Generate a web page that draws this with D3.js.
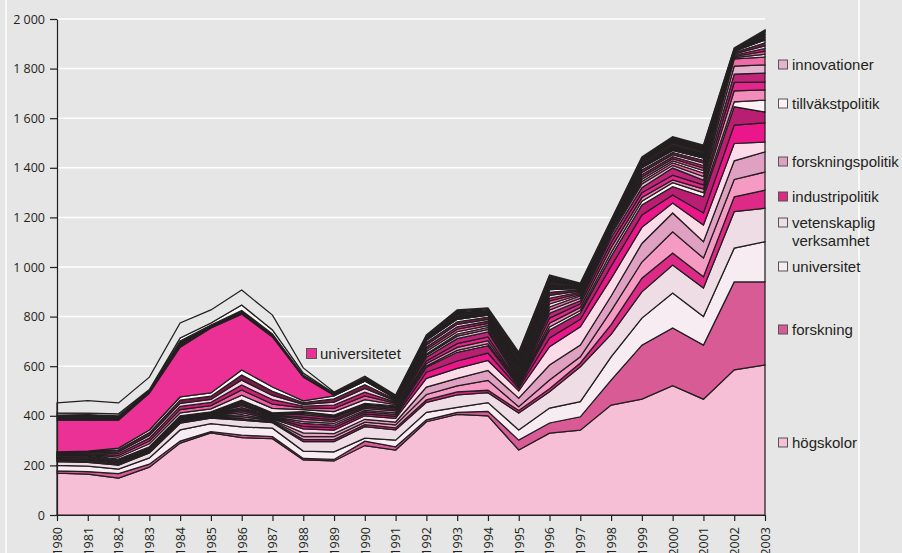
<!DOCTYPE html>
<html>
<head>
<meta charset="utf-8">
<script src="https://cdn.jsdelivr.net/npm/d3@7"></script>
<style>
  html, body { margin: 0; padding: 0; background: #e6e6e6; }
  svg { display: block; }
  .axis text { font-family: 'Open Sans', sans-serif; font-size: 12.5px; fill: #231f20; }
  .legend text { font-family: 'Liberation Sans', Arial, sans-serif; font-size: 15px; fill: #231f20; }
</style>
</head>
<body>
<svg id="chart" width="902" height="553"></svg>
<script>
// years on the x axis
var years = [1980,1981,1982,1983,1984,1985,1986,1987,1988,1989,1990,1991,1992,1993,1994,1995,1996,1997,1998,1999,2000,2001,2002,2003];
var yTicks = [0,200,400,600,800,1000,1200,1400,1600,1800,2000];

// layers, bottom to top
var hogskolor   = [169,165,149,193,290,331,312,308,222,218,280,262,376,406,400,262,330,342,443,467,521,467,585,605];
var forskning   = [9,10,18,12,8,5,10,8,6,6,18,13,8,8,18,40,41,54,101,218,233,218,355,335];
var universitet = [22,22,18,25,45,32,33,34,30,31,12,27,30,20,35,41,60,61,94,109,141,115,136,162];
var vetenskaplig = [15,15,16,20,27,23,28,22,38,41,46,41,40,50,40,68,66,141,90,106,113,115,147,135];
var industripolitik = [3,3,2,3,3,3,6,4,8,8,8,8,10,12,10,10,12,15,40,55,48,46,60,73];
var rosa1       = [3,3,3,3,3,2,8,4,12,12,10,12,22,25,40,16,35,25,55,65,86,75,70,73];
var forskningspolitik = [2,3,2,2,3,2,8,3,15,12,12,12,30,30,40,34,61,47,60,75,76,66,75,81];
var ljusrosa    = [3,3,3,3,3,3,8,4,16,14,14,15,35,40,40,30,74,74,70,65,40,67,70,40];
var magenta1    = [2,3,2,2,3,2,8,4,10,10,8,8,25,30,30,10,35,30,50,50,32,49,74,77];
var morkmagenta1 = [2,2,2,2,3,2,6,3,12,10,8,8,20,35,30,8,32,25,40,40,34,65,74,44];
var tillvakstpolitik = [2,2,2,2,2,2,6,3,8,7,6,6,5,8,8,3,12,10,15,15,16,17,20,48];
var rosa2       = [2,2,2,2,3,2,8,4,10,9,8,8,10,12,12,5,15,13,20,15,11,15,44,41];
var magenta2    = [2,2,2,2,2,2,6,3,8,7,6,6,10,15,15,5,21,15,20,20,19,16,34,32];
var morkmagenta2 = [1,2,2,2,2,2,6,3,10,8,6,6,15,20,20,8,20,12,20,20,29,19,34,36];
var innovationer = [2,2,1,1,2,2,5,3,6,5,4,4,8,10,10,4,13,10,12,15,11,15,32,33];
var rosa3       = [1,1,1,1,1,1,5,2,6,5,4,4,5,8,8,4,12,10,10,10,10,14,29,32];
var rand1 = [3,3,8,12,12,12,20,18,8,14,15,5,10,10,8,8,12,5,5,9,8,10,5,11];
var rand2 = [2,3,7,11,13,13,21,17,7,13,15,5,9,10,9,8,12,5,5,9,9,10,5,12];
var rand3 = [3,3,8,12,13,13,20,18,7,13,15,5,9,10,8,9,11,5,5,9,8,10,5,11];
var rand4 = [2,3,7,11,12,12,20,17,7,12,15,5,9,10,8,8,12,5,5,9,8,10,5,11];
var rand5 = [3,3,8,11,13,13,21,17,7,13,15,5,10,10,9,9,12,5,5,10,9,11,6,12];
var rand6 = [2,3,7,11,13,13,20,17,7,12,15,5,9,10,8,8,11,5,5,9,8,10,5,11];
var universitetet = [128,125,113,149,201,262,225,202,96,3,0,0,0,0,0,0,0,0,0,0,0,0,0,0];
var mork1 = [7,7,6,3,8,4,5,4,3,2,4,3,5,10,7,17,17,5,4,12,16,15,2,11];
var mork2 = [7,8,6,3,9,4,5,4,3,2,3,3,5,10,7,17,17,4,4,12,16,15,2,11];
var mork3 = [6,7,5,2,8,4,5,4,2,1,3,2,5,10,7,17,17,4,4,12,15,14,1,11];
var topp1 = [8,6,8,6,12,8,22,16,8,3,4,3,3,4,4,4,4,4,4,4,4,4,4,4];
var topp2 = [41,50,44,50,60,53,60,60,21,5,6,3,3,4,4,4,4,4,4,4,4,4,4,4];

var layers = [
  {key:'hogskolor', values:hogskolor, color:'#f6bfd6'},
  {key:'forskning', values:forskning, color:'#d95b96'},
  {key:'universitet', values:universitet, color:'#f7ecf1'},
  {key:'vetenskaplig', values:vetenskaplig, color:'#eedde5'},
  {key:'industripolitik', values:industripolitik, color:'#dc2a86'},
  {key:'rosa1', values:rosa1, color:'#f59bc3'},
  {key:'forskningspolitik', values:forskningspolitik, color:'#e0a0c1'},
  {key:'ljusrosa', values:ljusrosa, color:'#fcdbe9'},
  {key:'magenta1', values:magenta1, color:'#ea168a'},
  {key:'morkmagenta1', values:morkmagenta1, color:'#b91e72'},
  {key:'tillvakstpolitik', values:tillvakstpolitik, color:'#fdf1f6'},
  {key:'rosa2', values:rosa2, color:'#f38bbb'},
  {key:'magenta2', values:magenta2, color:'#e2268b'},
  {key:'morkmagenta2', values:morkmagenta2, color:'#c0237a'},
  {key:'innovationer', values:innovationer, color:'#e6b3cf'},
  {key:'rosa3', values:rosa3, color:'#f06aa8'},
  {key:'rand1', values:rand1, color:'#fbe9f1'},
  {key:'rand2', values:rand2, color:'#ee5fa3'},
  {key:'rand3', values:rand3, color:'#c91f78'},
  {key:'rand4', values:rand4, color:'#fad3e4'},
  {key:'rand5', values:rand5, color:'#7a1a4a'},
  {key:'rand6', values:rand6, color:'#ffffff'},
  {key:'universitetet', values:universitetet, color:'#ec3196'},
  {key:'mork1', values:mork1, color:'#231f20'},
  {key:'mork2', values:mork2, color:'#2b2326'},
  {key:'mork3', values:mork3, color:'#231f20'},
  {key:'topp1', values:topp1, color:'#fbf6f8'},
  {key:'topp2', values:topp2, color:'#e6e6e6'}
];

var table = years.map(function(yr, i){
  var row = {year: yr};
  layers.forEach(function(l){ row[l.key] = l.values[i]; });
  return row;
});

var svg = d3.select('#chart');
var W = 902, H = 553;
var x = d3.scaleLinear().domain([1980, 2003]).range([57, 765]);
var y = d3.scaleLinear().domain([0, 2000]).range([515, 19]);

// page edges
svg.append('line').attr('x1',6).attr('x2',6).attr('y1',0).attr('y2',H)
  .attr('stroke','#fff').attr('stroke-width',1.5);
svg.append('line').attr('x1',859).attr('x2',859).attr('y1',0).attr('y2',H)
  .attr('stroke','#fff').attr('stroke-width',1.5);

// gridlines
svg.append('g').selectAll('line').data(yTicks.slice(1)).enter().append('line')
  .attr('x1', x(1980)).attr('x2', x(2003))
  .attr('y1', function(d){ return y(d); }).attr('y2', function(d){ return y(d); })
  .attr('stroke','#fff').attr('stroke-width',1.5);

var stack = d3.stack().keys(layers.map(function(l){ return l.key; }));
var series = stack(table);

var area = d3.area()
  .x(function(d){ return x(d.data.year); })
  .y0(function(d){ return y(d[0]); })
  .y1(function(d){ return y(d[1]); });

svg.append('g').selectAll('path').data(series).enter().append('path')
  .attr('d', area)
  .attr('fill', function(d, i){ return layers[i].color; })
  .attr('stroke', '#231f20')
  .attr('stroke-width', 1.25)
  .attr('stroke-linejoin', 'miter');

// axes
var loc = d3.formatLocale({decimal: ',', thousands: '\u00a0', grouping: [3], currency: ['', '']});
var yAxis = d3.axisLeft(y).tickValues(yTicks).tickSize(7).tickSizeOuter(0).tickPadding(5)
  .tickFormat(loc.format(','));
svg.append('g').attr('class','axis').attr('transform','translate(' + x(1980) + ',0)').call(yAxis);

var xAxis = d3.axisBottom(x).tickValues(years).tickSize(6).tickSizeOuter(0).tickFormat(d3.format('d'));
var gx = svg.append('g').attr('class','axis').attr('transform','translate(0,' + y(0) + ')').call(xAxis);
gx.selectAll('text')
  .attr('transform','rotate(-90)')
  .attr('text-anchor','end')
  .attr('x', -12).attr('y', 0).attr('dy', '0.35em');

svg.selectAll('.axis path, .axis line').attr('stroke','#231f20').attr('stroke-width',1.2);

// legend
var legendItems = [
  {label:['innovationer'], key:'innovationer', y:65},
  {label:['tillväkstpolitik'], key:'tillvakstpolitik', y:104},
  {label:['forskningspolitik'], key:'forskningspolitik', y:162},
  {label:['industripolitik'], key:'industripolitik', y:197},
  {label:['vetenskaplig','verksamhet'], key:'vetenskaplig', y:223},
  {label:['universitet'], key:'universitet', y:267},
  {label:['forskning'], key:'forskning', y:330},
  {label:['högskolor'], key:'hogskolor', y:443}
];
var colorOf = {};
layers.forEach(function(l){ colorOf[l.key] = l.color; });

var lg = svg.append('g').attr('class','legend');
legendItems.forEach(function(it){
  lg.append('rect').attr('x',778.5).attr('y',it.y - 5).attr('width',9).attr('height',9)
    .attr('fill', colorOf[it.key]).attr('stroke','#555').attr('stroke-width',1);
  var t = lg.append('text').attr('x',792).attr('y',it.y).attr('dy','0.35em');
  it.label.forEach(function(s, j){
    t.append('tspan').attr('x',792).attr('dy', j === 0 ? '0.35em' : '1.2em').text(s);
  });
});

// inline label for universitetet
lg.append('rect').attr('x',306.5).attr('y',348.5).attr('width',10).attr('height',10)
  .attr('fill', colorOf['universitetet']).attr('stroke','#555').attr('stroke-width',1);
lg.append('text').attr('x',320).attr('y',354).attr('dy','0.35em').text('universitetet');
</script>
</body>
</html>
